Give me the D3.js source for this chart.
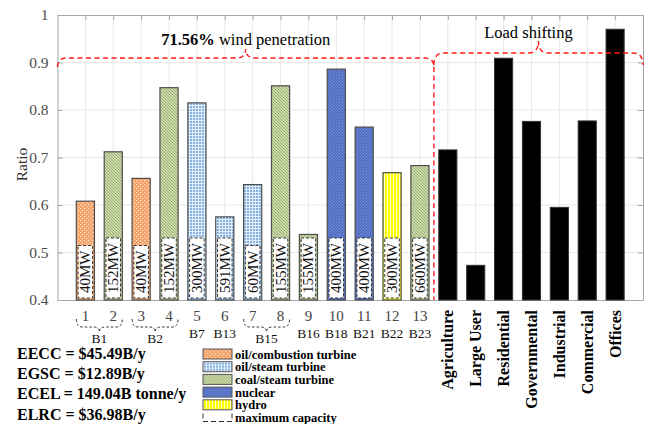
<!DOCTYPE html>
<html>
<head>
<meta charset="utf-8">
<script src="https://cdn.jsdelivr.net/npm/d3@7"></script>
<style>
  html, body { margin: 0; padding: 0; background: #fff; }
  svg { display: block; font-family: "Liberation Serif", "Times New Roman", serif; }
</style>
</head>
<body>
<svg id="chart" width="650" height="424"></svg>
<script>
// Generator units (bars 1-13)
const genIds = ["1","2","3","4","5","6","7","8","9","10","11","12","13"];
const genValues = [0.608, 0.712, 0.656, 0.847, 0.815, 0.575, 0.643, 0.851, 0.538, 0.886, 0.764, 0.668, 0.683];
const genTypes = ["oilCT","coal","oilCT","coal","oilST","oilST","oilST","coal","coal","nuclear","nuclear","hydro","coal"];
const genCapacity = ["40MW","152MW","40MW","152MW","300MW","591MW","60MW","155MW","155MW","400MW","400MW","300MW","660MW"];

// Bus groupings shown under the generator numbers
const busNames = ["B1","B2","B7","B13","B15","B16","B18","B21","B22","B23"];
const busFirst = [1, 3, 5, 6, 7, 9, 10, 11, 12, 13];
const busLast  = [2, 4, 5, 6, 8, 9, 10, 11, 12, 13];

// Load-shifting customer classes (bars 14-20)
const loadCategories = ["Agriculture","Large User","Residential","Governmental","Industrial","Commercial","Offices"];
const loadValues = [0.716, 0.473, 0.909, 0.776, 0.595, 0.777, 0.970];

// Axis ticks
const yTicks = [0.4, 0.5, 0.6, 0.7, 0.8, 0.9, 1];
const yTickLabels = ["0.4","0.5","0.6","0.7","0.8","0.9","1"];

// Summary figures
const summaryLines = [
  "EECC = $45.49B/y",
  "EGSC = $12.89B/y",
  "ECEL = 149.04B tonne/y",
  "ELRC = $36.98B/y"
];

// Legend entries
const legendKeys = ["oilCT","oilST","coal","nuclear","hydro","cap"];
const legendLabels = ["oil/combustion turbine","oil/steam turbine","coal/steam turbine","nuclear","hydro","maximum capacity"];

const svg = d3.select("#chart");
const plot = { left: 57.5, right: 643, top: 15, bottom: 300 };

const nBars = genValues.length + loadValues.length;
const x = d3.scaleLinear().domain([0, nBars + 1]).range([plot.left, plot.right]);
const y = d3.scaleLinear().domain([0.4, 1]).range([plot.bottom, plot.top]);
const barW = (x(1) - x(0)) * 0.65;

// ---------- fill patterns ----------
const defs = svg.append("defs");
function pat(id, size) {
  return defs.append("pattern").attr("id", id).attr("patternUnits", "userSpaceOnUse")
    .attr("width", size).attr("height", size);
}
// oil / combustion turbine: orange with light dots
{
  const p = pat("p-oilCT", 4);
  p.append("rect").attr("width", 4).attr("height", 4).attr("fill", "#f2a066");
  p.append("rect").attr("x", 0).attr("y", 0).attr("width", 1.3).attr("height", 1.3).attr("fill", "#fde3cc");
  p.append("rect").attr("x", 2).attr("y", 2).attr("width", 1.3).attr("height", 1.3).attr("fill", "#fde3cc");
}
// oil / steam turbine: light blue with white grid
{
  const p = pat("p-oilST", 3);
  p.append("rect").attr("width", 3).attr("height", 3).attr("fill", "#86b2e2");
  p.append("rect").attr("x", 0).attr("y", 0).attr("width", 3).attr("height", 1).attr("fill", "#e3eefa");
  p.append("rect").attr("x", 0).attr("y", 0).attr("width", 1).attr("height", 3).attr("fill", "#e3eefa");
}
// coal / steam turbine: olive with diagonal hatch
{
  const p = pat("p-coal", 3);
  p.append("rect").attr("width", 3).attr("height", 3).attr("fill", "#cbdca8");
  p.append("path").attr("d", "M0,0 L3,3 M-1,2 L1,4 M2,-1 L4,1").attr("stroke", "#8e9c6c").attr("stroke-width", 0.8);
}
// nuclear: blue checker
{
  const p = pat("p-nuclear", 3);
  p.append("rect").attr("width", 3).attr("height", 3).attr("fill", "#4a68c0");
  p.append("rect").attr("x", 0).attr("y", 0).attr("width", 1.2).attr("height", 1.2).attr("fill", "#7f97dc");
  p.append("rect").attr("x", 1.5).attr("y", 1.5).attr("width", 1.2).attr("height", 1.2).attr("fill", "#7f97dc");
}
// hydro: yellow with pale vertical stripes
{
  const p = pat("p-hydro", 3);
  p.append("rect").attr("width", 3).attr("height", 3).attr("fill", "#ffff00");
  p.append("rect").attr("x", 0).attr("y", 0).attr("width", 1).attr("height", 3).attr("fill", "#ffffc8");
}

// ---------- grid ----------
const grid = svg.append("g");
grid.selectAll("line.vg").data(d3.range(1, nBars + 1)).join("line")
  .attr("x1", d => x(d)).attr("x2", d => x(d))
  .attr("y1", plot.top).attr("y2", plot.bottom)
  .attr("stroke", "#e8e8e8").attr("stroke-width", 1);
grid.selectAll("line.hg").data(yTicks.slice(1, -1)).join("line")
  .attr("x1", plot.left).attr("x2", plot.right)
  .attr("y1", d => y(d)).attr("y2", d => y(d))
  .attr("stroke", "#e8e8e8").attr("stroke-width", 1);

// ---------- axes box ----------
const axisColor = "#a6a6a6";
const yAxis = d3.axisLeft(y).tickValues(yTicks).tickFormat((d, i) => yTickLabels[i]).tickSizeInner(-5).tickSizeOuter(0).tickPadding(9);
const gy = svg.append("g").attr("transform", `translate(${plot.left},0)`).call(yAxis);
gy.select(".domain").attr("stroke", axisColor);
gy.selectAll(".tick line").attr("stroke", axisColor);
gy.selectAll(".tick text").attr("fill", "#4d4d4d").style("font-size", "15.5px").style("font-family", "Liberation Serif");

const yAxisR = d3.axisRight(y).tickValues(yTicks).tickFormat("").tickSizeInner(-5).tickSizeOuter(0);
const gyr = svg.append("g").attr("transform", `translate(${plot.right},0)`).call(yAxisR);
gyr.select(".domain").attr("stroke", axisColor);
gyr.selectAll(".tick line").attr("stroke", axisColor);

const xAxisT = d3.axisTop(x).tickValues(d3.range(1, nBars + 1)).tickFormat("").tickSizeInner(-5).tickSizeOuter(0);
const gxt = svg.append("g").attr("transform", `translate(0,${plot.top})`).call(xAxisT);
gxt.select(".domain").attr("stroke", axisColor);
gxt.selectAll(".tick line").attr("stroke", axisColor);

const xAxisB = d3.axisBottom(x).tickValues([]).tickSizeOuter(0);
const gxb = svg.append("g").attr("transform", `translate(0,${plot.bottom})`).call(xAxisB);
gxb.select(".domain").attr("stroke", axisColor);

// y label
svg.append("text").attr("transform", `translate(27,${(plot.top + plot.bottom) / 2 + 7}) rotate(-90)`)
  .attr("text-anchor", "middle").attr("fill", "#333").style("font-size", "15.5px").text("Ratio");

// ---------- generator bars ----------
const genData = genValues.map((v, i) => ({ i: i + 1, v, type: genTypes[i], cap: genCapacity[i] }));
const bars = svg.append("g");
bars.selectAll("rect.gen").data(genData).join("rect")
  .attr("x", d => x(d.i) - barW / 2).attr("width", barW)
  .attr("y", d => y(d.v)).attr("height", d => y(0.4) - y(d.v))
  .attr("fill", d => `url(#p-${d.type})`)
  .attr("stroke", "#4d4d4d").attr("stroke-width", 1.2);

// capacity labels in dashed white boxes
const capG = svg.append("g");
genData.forEach(d => {
  const g = capG.append("g");
  const t = g.append("text")
    .attr("transform", `translate(${x(d.i) + 5},${y(0.4) - 7}) rotate(-90)`)
    .attr("fill", "#111").style("font-size", "15px").text(d.cap);
  const len = t.node().getComputedTextLength();
  const bh = len + 10;
  g.insert("rect", "text")
    .attr("x", x(d.i) - barW / 2 + 1.8).attr("width", barW - 3.6)
    .attr("y", y(0.4) - 2 - bh).attr("height", bh)
    .attr("fill", "#fff").attr("stroke", "#333").attr("stroke-width", 1)
    .attr("stroke-dasharray", "3,2");
});

// ---------- load bars ----------
const loadData = loadValues.map((v, i) => ({ i: genValues.length + i + 1, v, name: loadCategories[i] }));
bars.selectAll("rect.load").data(loadData).join("rect")
  .attr("x", d => x(d.i) - barW / 2).attr("width", barW)
  .attr("y", d => y(d.v)).attr("height", d => y(0.4) - y(d.v))
  .attr("fill", "#000").attr("stroke", "#333").attr("stroke-width", 1);

svg.append("g").selectAll("text").data(loadData).join("text")
  .attr("transform", d => `translate(${x(d.i) + 5.5},${plot.bottom + 10}) rotate(-90)`)
  .attr("text-anchor", "end").attr("fill", "#000")
  .style("font-size", "16px").style("font-weight", "bold")
  .text(d => d.name);

// ---------- generator numbers and bus labels ----------
svg.append("g").selectAll("text").data(genIds).join("text")
  .attr("x", (d, i) => x(i + 1)).attr("y", 321)
  .attr("text-anchor", "middle").attr("fill", "#444").style("font-size", "15px")
  .text(d => d);

function brace(x0, x1, yEnd, yLine, yPeak, r) {
  const xm = (x0 + x1) / 2;
  const p = d3.path();
  p.moveTo(x0, yEnd);
  p.quadraticCurveTo(x0, yLine, x0 + r, yLine);
  p.lineTo(xm - r, yLine);
  p.quadraticCurveTo(xm, yLine, xm, yPeak);
  p.quadraticCurveTo(xm, yLine, xm + r, yLine);
  p.lineTo(x1 - r, yLine);
  p.quadraticCurveTo(x1, yLine, x1, yEnd);
  return p.toString();
}

const busG = svg.append("g");
busNames.forEach((name, k) => {
  const a = busFirst[k], b = busLast[k];
  const cx = (x(a) + x(b)) / 2;
  if (a !== b) {
    busG.append("path")
      .attr("d", brace(x(a) - 9, x(b) + 9, 319, 327, 332, 6))
      .attr("fill", "none").attr("stroke", "#333").attr("stroke-width", 1)
      .attr("stroke-dasharray", "2.5,2");
    busG.append("text").attr("x", cx).attr("y", 343).attr("text-anchor", "middle")
      .attr("fill", "#111").style("font-size", "13.5px").text(name);
  } else {
    busG.append("text").attr("x", cx).attr("y", 338).attr("text-anchor", "middle")
      .attr("fill", "#111").style("font-size", "13.5px").text(name);
  }
});

// ---------- region braces ----------
const split = genValues.length + 0.5;
const red = "#ff1a1a";
svg.append("path")
  .attr("d", brace(x(0), x(split), 67, 58, 49, 9))
  .attr("fill", "none").attr("stroke", red).attr("stroke-width", 1.4).attr("stroke-dasharray", "5,3.5");
svg.append("path")
  .attr("d", brace(x(split), x(nBars + 1), 65, 53, 41, 10))
  .attr("fill", "none").attr("stroke", red).attr("stroke-width", 1.4).attr("stroke-dasharray", "5,3.5");
svg.append("line")
  .attr("x1", x(split)).attr("x2", x(split)).attr("y1", 67).attr("y2", y(0.4))
  .attr("stroke", red).attr("stroke-width", 1.4).attr("stroke-dasharray", "5,3.5");

const t1 = svg.append("text").attr("x", (x(0) + x(split)) / 2).attr("y", 45)
  .attr("text-anchor", "middle").attr("fill", "#000").style("font-size", "16.5px");
t1.append("tspan").style("font-weight", "bold").text("71.56%");
t1.append("tspan").text(" wind penetration");

svg.append("text").attr("x", (x(split) + x(nBars + 1)) / 2 - 10).attr("y", 38)
  .attr("text-anchor", "middle").attr("fill", "#000").style("font-size", "16.5px")
  .text("Load shifting");

// ---------- summary text ----------
svg.append("g").selectAll("text").data(summaryLines).join("text")
  .attr("x", 17).attr("y", (d, i) => 359 + i * 20.2)
  .attr("fill", "#000").style("font-size", "16px").style("font-weight", "bold")
  .text(d => d);

// ---------- legend ----------
const lg = svg.append("g").attr("transform", "translate(203,349)");
legendKeys.forEach((k, i) => {
  const row = lg.append("g").attr("transform", `translate(0,${i * 12.7})`);
  if (k === "cap") {
    row.append("path").attr("d", "M0,1 L0,9 L29,9 L29,1")
      .attr("fill", "none").attr("stroke", "#333").attr("stroke-dasharray", "5,3");
  } else {
    row.append("rect").attr("x", 0).attr("y", 0).attr("width", 29).attr("height", 10)
      .attr("fill", `url(#p-${k})`).attr("stroke", "#555").attr("stroke-width", 1);
  }
  row.append("text").attr("x", 32).attr("y", 9.5).attr("fill", "#000")
    .style("font-size", "12.5px").style("font-weight", "bold").text(legendLabels[i]);
});
</script>
</body>
</html>
